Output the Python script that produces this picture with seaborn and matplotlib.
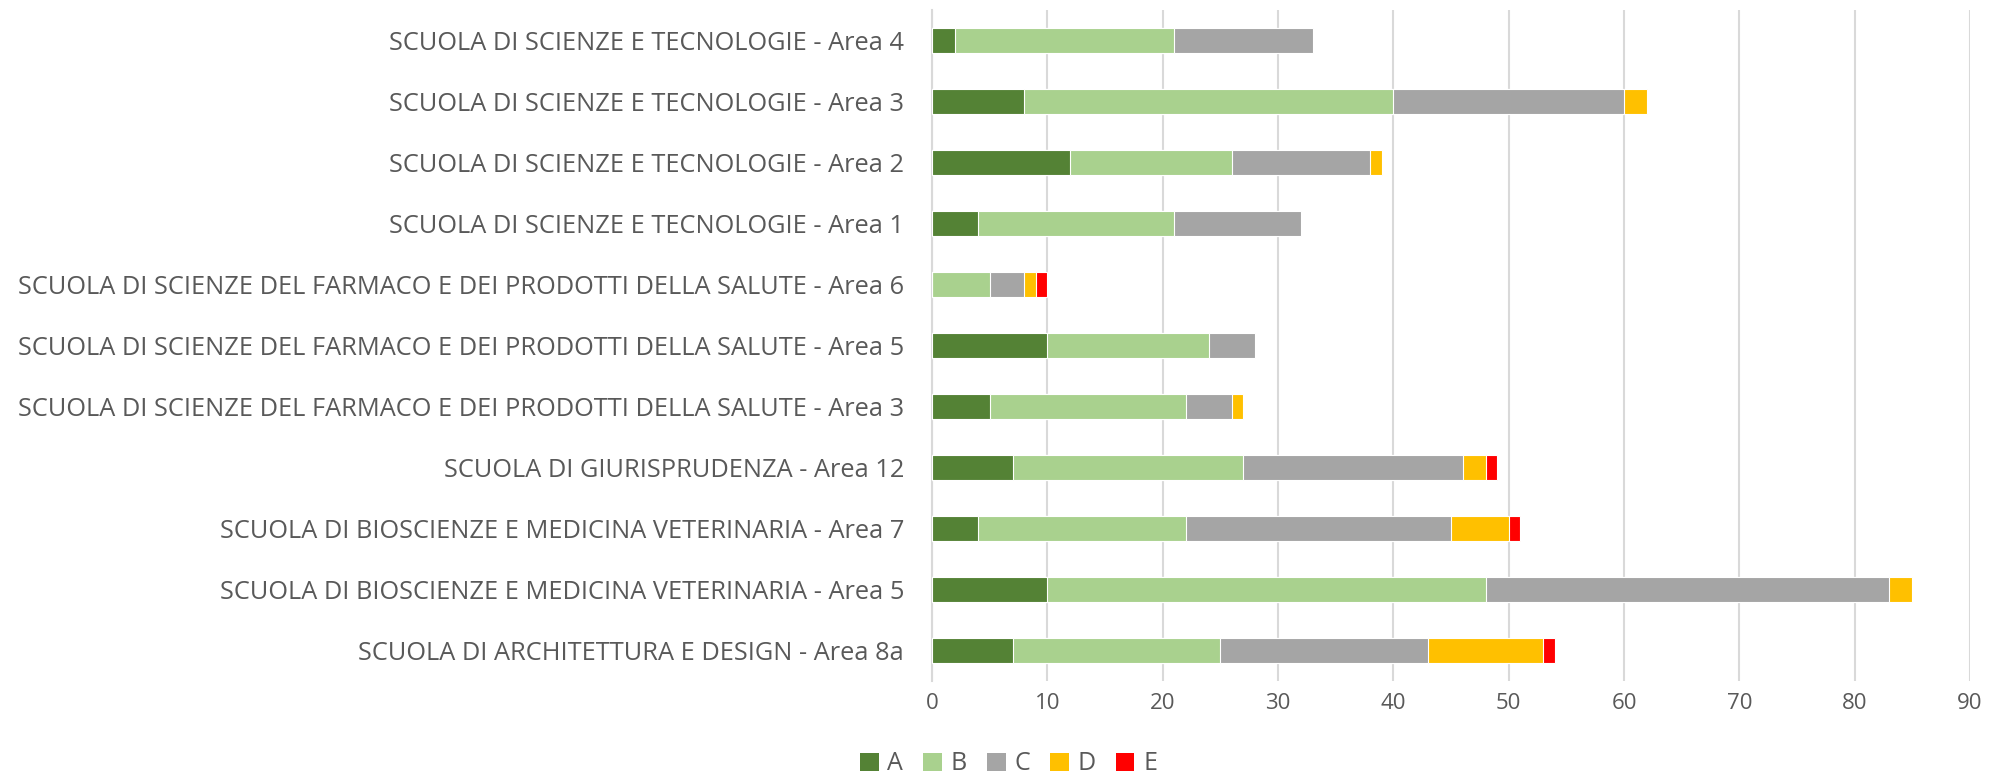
import numpy as np
import pandas as pd
import matplotlib
matplotlib.use("Agg")
import matplotlib.pyplot as plt
import seaborn as sns
from matplotlib.patches import Patch

# Categories (top to bottom as in the chart)
categories = [
    "SCUOLA DI SCIENZE E TECNOLOGIE - Area 4",
    "SCUOLA DI SCIENZE E TECNOLOGIE - Area 3",
    "SCUOLA DI SCIENZE E TECNOLOGIE - Area 2",
    "SCUOLA DI SCIENZE E TECNOLOGIE - Area 1",
    "SCUOLA DI SCIENZE DEL FARMACO E DEI PRODOTTI DELLA SALUTE - Area 6",
    "SCUOLA DI SCIENZE DEL FARMACO E DEI PRODOTTI DELLA SALUTE - Area 5",
    "SCUOLA DI SCIENZE DEL FARMACO E DEI PRODOTTI DELLA SALUTE - Area 3",
    "SCUOLA DI GIURISPRUDENZA - Area 12",
    "SCUOLA DI BIOSCIENZE E MEDICINA VETERINARIA - Area 7",
    "SCUOLA DI BIOSCIENZE E MEDICINA VETERINARIA - Area 5",
    "SCUOLA DI ARCHITETTURA E DESIGN - Area 8a",
]

# Counts per grade
A = [2, 8, 12, 4, 0, 10, 5, 7, 4, 10, 7]
B = [19, 32, 14, 17, 5, 14, 17, 20, 18, 38, 18]
C = [12, 20, 12, 11, 3, 4, 4, 19, 23, 35, 18]
D = [0, 2, 1, 0, 1, 0, 1, 2, 5, 2, 10]
E = [0, 0, 0, 0, 1, 0, 0, 1, 1, 0, 1]

series_names = ["A", "B", "C", "D", "E"]
colors = ["#548235", "#A9D18E", "#A5A5A5", "#FFC000", "#FF0000"]

df = pd.DataFrame({"Category": categories, "A": A, "B": B, "C": C, "D": D, "E": E})

sns.set_style("white")
plt.rcParams["font.family"] = ["Open Sans", "DejaVu Sans"]

fig = plt.figure(figsize=(19.97, 7.78), dpi=100)
ax = fig.add_axes([0.4667, 0.1247, 0.5198, 0.8623])

# stacked bars: draw cumulative totals from the outermost layer inwards
cum = df[series_names].cumsum(axis=1)
for name, col in reversed(list(zip(series_names, colors))):
    sns.barplot(x=cum[name], y=df["Category"], order=categories, orient="h",
                color=col, saturation=1, width=0.4, edgecolor="white",
                linewidth=0.8, ax=ax, zorder=3)

ax.set_xlim(0, 90)
ax.set_xticks(np.arange(0, 91, 10))
ax.set_ylim(len(categories) - 0.5, -0.5)
ax.set_xlabel("")
ax.set_ylabel("")

ax.grid(axis="x", color="#D9D9D9", linewidth=1.5, zorder=0)
ax.set_axisbelow(True)
for s in ["top", "right", "bottom"]:
    ax.spines[s].set_visible(False)
ax.spines["left"].set_color("#D9D9D9")
ax.spines["left"].set_linewidth(1.5)

ax.tick_params(axis="y", length=0, pad=20, labelsize=18.3, labelcolor="#595959")
ax.tick_params(axis="x", length=0, pad=9, labelsize=16, labelcolor="#595959")

handles = [Patch(facecolor=c, edgecolor="none", label=n) for n, c in zip(series_names, colors)]
fig.legend(handles=handles, loc="center", bbox_to_anchor=(0.505, 0.018), ncol=5,
           frameon=False, fontsize=18, handlelength=0.75, handleheight=0.75,
           handletextpad=0.35, columnspacing=0.8, labelcolor="#595959")

fig.savefig("out.png", dpi=100)
